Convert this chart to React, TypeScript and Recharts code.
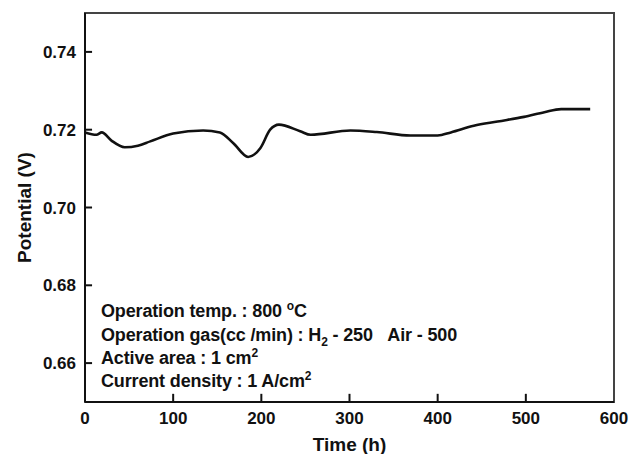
import React from 'react';
import {
  LineChart,
  Line,
  XAxis,
  YAxis,
  ReferenceArea,
  ReferenceLine,
} from 'recharts';

// time (h) and cell potential (V)
const timeH = [0, 13, 19, 30, 45, 60, 74, 100, 134, 153, 168, 185, 199, 210, 220, 244, 256, 301, 331, 369, 400, 415, 441, 468, 498, 521, 540, 573];
const potentialV = [0.7193, 0.7187, 0.7193, 0.7172, 0.7155, 0.7159, 0.717, 0.719, 0.7198, 0.7193, 0.7166, 0.713, 0.7153, 0.72, 0.7213, 0.7196, 0.7187, 0.7198, 0.7194, 0.7185, 0.7185, 0.7193, 0.721, 0.7221, 0.7233, 0.7245, 0.7253, 0.7253];

const xTicks = [0, 100, 200, 300, 400, 500, 600];
const yTicks = [0.66, 0.68, 0.7, 0.72, 0.74];

const X_MIN = 0;
const X_MAX = 600;
const Y_MIN = 0.65;
const Y_MAX = 0.75;

const data = timeH.map((t, i) => ({ t, v: potentialV[i] }));

const FONT = 'Arial, "Liberation Sans", sans-serif';
const INK = '#111';
const GAP = 10;

const labelFont = { fontSize: 17, fontWeight: 700, fill: INK, fontFamily: FONT };

const XTick = (props: any) => {
  const { x, y, payload } = props;
  return (
    <text x={x} y={y - GAP + 22} textAnchor="middle" style={labelFont}>
      {payload.value}
    </text>
  );
};

const YTick = (props: any) => {
  const { x, y, payload } = props;
  return (
    <text x={x + GAP - 9} y={y + 6} textAnchor="end" style={labelFont}>
      {Number(payload.value).toFixed(2)}
    </text>
  );
};

const Note = () => {
  const base = { fontSize: 18, fontWeight: 700, fill: INK, fontFamily: FONT, letterSpacing: -0.15, whiteSpace: 'pre' as const };
  return (
    <g>
      <text x={101} y={317} style={base}>
        Operation temp. : 800 <tspan dy={-7} fontSize={12}>o</tspan>
        <tspan dy={7}>C</tspan>
      </text>
      <text x={101} y={341} style={base}>
        Operation gas(cc /min) : H<tspan dy={5} fontSize={12}>2</tspan>
        <tspan dy={-5}>{' - 250\u00a0\u00a0\u00a0Air - 500'}</tspan>
      </text>
      <text x={101} y={364} style={base}>
        Active area : 1 cm<tspan dy={-7} fontSize={12}>2</tspan>
      </text>
      <text x={101} y={387} style={base}>
        Current density : 1 A/cm<tspan dy={-7} fontSize={12}>2</tspan>
      </text>
    </g>
  );
};

// inward tick marks, in data units
const xTickLen = 0.0021;
const yTickLen = 8;

export default function App() {
  return (
    <div style={{ position: 'absolute', left: 0, top: 0, background: '#fff' }}>
      <LineChart
        width={630}
        height={454}
        data={data}
        margin={{ top: 13, right: 16, left: 0, bottom: 0 }}
      >
        <XAxis
          dataKey="t"
          type="number"
          domain={[X_MIN, X_MAX]}
          ticks={xTicks}
          interval={0}
          height={52}
          tickSize={0}
          tickMargin={GAP}
          tickLine={false}
          stroke={INK}
          strokeWidth={2}
          tick={<XTick />}
          label={{
            value: 'Time (h)',
            position: 'insideBottom',
            offset: 3,
            style: { fontSize: 19, fontWeight: 700, fill: INK, fontFamily: FONT },
          }}
        />
        <YAxis
          type="number"
          domain={[Y_MIN, Y_MAX]}
          ticks={yTicks}
          interval={0}
          width={85}
          tickSize={0}
          tickMargin={GAP}
          tickLine={false}
          stroke={INK}
          strokeWidth={2}
          tick={<YTick />}
          label={{
            value: 'Potential (V)',
            angle: -90,
            position: 'insideLeft',
            offset: 24,
            style: { fontSize: 19, fontWeight: 700, fill: INK, fontFamily: FONT, textAnchor: 'middle' },
          }}
        />
        <ReferenceArea
          x1={X_MIN}
          x2={X_MAX}
          y1={Y_MIN}
          y2={Y_MAX}
          fill="none"
          stroke="#444"
          strokeWidth={2}
          ifOverflow="visible"
        />
        {xTicks.slice(1, -1).map((t) => (
          <ReferenceLine
            key={`xt-${t}`}
            segment={[{ x: t, y: Y_MIN }, { x: t, y: Y_MIN + xTickLen }]}
            stroke={INK}
            strokeWidth={2}
            ifOverflow="visible"
          />
        ))}
        {yTicks.map((v) => (
          <ReferenceLine
            key={`yt-${v}`}
            segment={[{ x: X_MIN, y: v }, { x: X_MIN + yTickLen, y: v }]}
            stroke={INK}
            strokeWidth={2}
            ifOverflow="visible"
          />
        ))}
        <Line
          type="monotone"
          dataKey="v"
          stroke={INK}
          strokeWidth={2.6}
          dot={false}
          isAnimationActive={false}
        />
        <Note />
      </LineChart>
    </div>
  );
}
